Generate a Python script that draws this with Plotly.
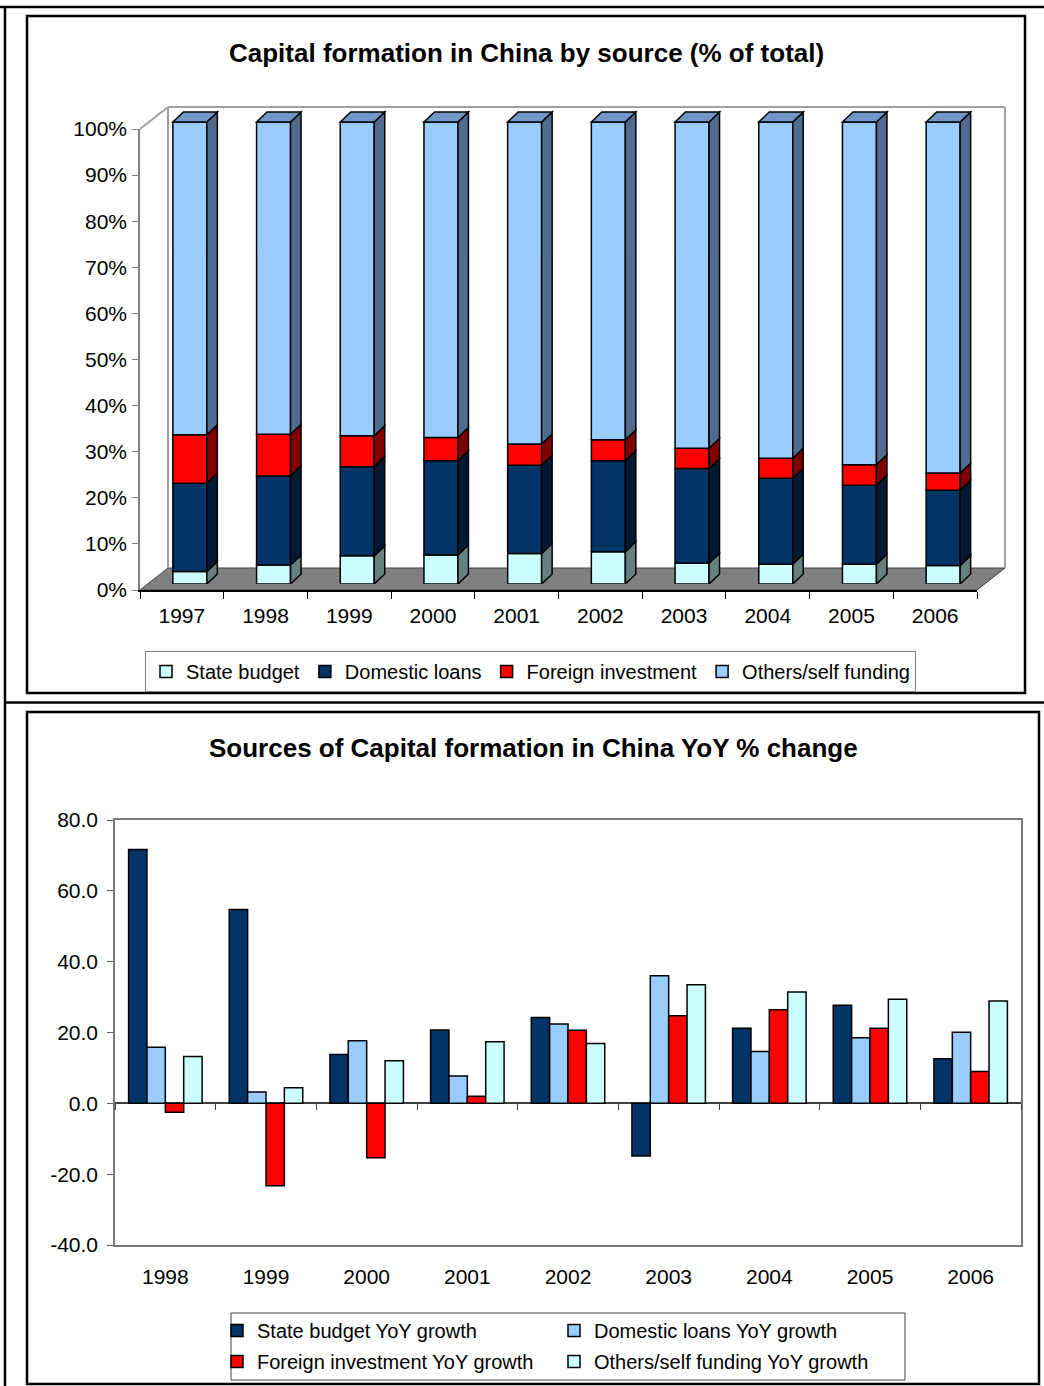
import numpy as np
import plotly.graph_objects as go

W, H = 1044, 1386
def fx(px):
    return px / W
def fy(py):
    return 1 - py / H

FONT = "Liberation Sans, Arial, sans-serif"

# ---------------- data: top chart (% of total) ----------------
years_share = ["1997", "1998", "1999", "2000", "2001", "2002", "2003", "2004", "2005", "2006"]
state_share = [2.7, 4.1, 6.1, 6.3, 6.6, 7.0, 4.5, 4.3, 4.3, 4.0]
domestic_share = [19.1, 19.3, 19.3, 20.4, 19.1, 19.7, 20.5, 18.6, 17.1, 16.3]
foreign_share = [10.5, 9.0, 6.7, 5.0, 4.6, 4.5, 4.4, 4.3, 4.4, 3.7]
others_share = [67.7, 67.6, 67.9, 68.3, 69.7, 68.8, 70.6, 72.8, 74.2, 76.0]
share_names = ["State budget", "Domestic loans", "Foreign investment", "Others/self funding"]

# ---------------- data: bottom chart (YoY % change) ----------------
years_yoy = ["1998", "1999", "2000", "2001", "2002", "2003", "2004", "2005", "2006"]
state_yoy = [71.7, 54.7, 13.8, 20.7, 24.2, -14.9, 21.2, 27.7, 12.6]
domestic_yoy = [15.8, 3.2, 17.7, 7.7, 22.4, 36.0, 14.6, 18.5, 20.1]
foreign_yoy = [-2.5, -23.3, -15.4, 2.0, 20.6, 24.7, 26.4, 21.2, 9.0]
others_yoy = [13.2, 4.4, 12.0, 17.4, 16.9, 33.5, 31.4, 29.4, 28.9]
yoy_names = ["State budget YoY growth", "Domestic loans YoY growth",
             "Foreign investment YoY growth", "Others/self funding YoY growth"]
yoy_tickvals = [-40, -20, 0, 20, 40, 60, 80]
yoy_ticktext = ["-40.0", "-20.0", "0.0", "20.0", "40.0", "60.0", "80.0"]

# styles
top_front = ["#CCFFFF", "#003366", "#FF0000", "#99CCFF"]
top_side = ["#668080", "#001A33", "#800000", "#4F6B8E"]
top_roof = "#7097C6"
bot_colors = ["#003366", "#99CCFF", "#FF0000", "#CCFFFF"]

fig = go.Figure()

# invisible trace to materialise the front (axis) subplot of the top chart
fig.add_trace(go.Scatter(x=years_share, y=[None] * len(years_share), mode="markers",
                         marker=dict(opacity=0), showlegend=False, hoverinfo="skip",
                         xaxis="x", yaxis="y"))

# top stacked bars (subplot x2/y2, shifted into the 3D depth)
series_top = [state_share, domestic_share, foreign_share, others_share]
xs = np.arange(len(years_share))
BW = 0.406
base = np.zeros(len(years_share))
bases = []
for j, vals in enumerate(series_top):
    vals = np.array(vals, dtype=float)
    bases.append(base.copy())
    fig.add_trace(go.Bar(x=xs, y=vals, base=base.copy(), width=BW, offset=-BW / 2,
                         marker=dict(color=top_front[j], line=dict(color="black", width=1.5)),
                         name=share_names[j], xaxis="x2", yaxis="y2", legend="legend"))
    base = base + vals

# bottom grouped bars
series_bot = [state_yoy, domestic_yoy, foreign_yoy, others_yoy]
for j, vals in enumerate(series_bot):
    fig.add_trace(go.Bar(x=years_yoy, y=vals, name=yoy_names[j],
                         marker=dict(color=bot_colors[j], line=dict(color="black", width=1.5)),
                         xaxis="x3", yaxis="y3", legend="legend2" if j < 2 else "legend3"))

# invisible trace for the zero-line tick axis
fig.add_trace(go.Scatter(x=years_yoy, y=[None] * len(years_yoy), mode="markers",
                         marker=dict(opacity=0), showlegend=False, hoverinfo="skip",
                         xaxis="x4", yaxis="y3"))

shapes = []
# 3D side & roof faces of the top bars (data coords of x2/y2)
DX, DY = 0.1255, 2.16
for j, vals in enumerate(series_top):
    for i in range(len(xs)):
        y0 = bases[j][i]
        y1 = y0 + vals[i]
        x1 = xs[i] + BW / 2
        path = (f"M {x1},{y0} L {x1 + DX},{y0 + DY} L {x1 + DX},{y1 + DY} "
                f"L {x1},{y1} Z")
        shapes.append(dict(type="path", path=path, xref="x2", yref="y2",
                           fillcolor=top_side[j], line=dict(color="black", width=1.5),
                           layer="above"))
        if j == len(series_top) - 1:
            x0 = xs[i] - BW / 2
            path = (f"M {x0},{y1} L {x0 + DX},{y1 + DY} L {x1 + DX},{y1 + DY} "
                    f"L {x1},{y1} Z")
            shapes.append(dict(type="path", path=path, xref="x2", yref="y2",
                               fillcolor=top_roof, line=dict(color="black", width=1.5),
                               layer="above"))

def pline(x0, y0, x1, y1, color="black", width=2.5, layer="above"):
    shapes.append(dict(type="line", xref="paper", yref="paper",
                       x0=fx(x0), y0=fy(y0), x1=fx(x1), y1=fy(y1),
                       line=dict(color=color, width=width), layer=layer))

def prect(x0, y0, x1, y1, color="black", width=2.5, fill=None, layer="above"):
    d = dict(type="rect", xref="paper", yref="paper",
             x0=fx(x0), y0=fy(y1), x1=fx(x1), y1=fy(y0),
             line=dict(color=color, width=width), layer=layer)
    if fill:
        d["fillcolor"] = fill
    shapes.append(d)

# floor of the 3D chart
shapes.append(dict(type="path", xref="paper", yref="paper", layer="below",
                   path=(f"M {fx(140)},{fy(590)} L {fx(977)},{fy(590)} L {fx(1005)},{fy(568)} "
                         f"L {fx(168)},{fy(568)} Z"),
                   fillcolor="#808080", line=dict(color="#404040", width=1)))
# back walls
pline(168, 568, 168, 107, color="#A0A0A0", width=2, layer="below")
pline(168, 107, 1005, 107, color="#A0A0A0", width=2, layer="below")
pline(1005, 107, 1005, 568, color="#A0A0A0", width=2, layer="below")
pline(140, 129, 168, 107, color="#A0A0A0", width=2, layer="below")

# frames
pline(0, 7, 1044, 7)
pline(5, 7, 5, 1386)
pline(5, 702.5, 1044, 702.5)
prect(27, 16, 1025, 693)
prect(27, 712, 1039, 1384)
# bottom legend box
prect(231, 1313, 905, 1380, color="#404040", width=1)

annotations = [
    dict(text="<b>Capital formation in China by source (% of total)</b>", x=fx(526), y=fy(53),
         xref="paper", yref="paper", showarrow=False, xanchor="center", yanchor="middle",
         font=dict(size=26, color="black", family=FONT)),
    dict(text="<b>Sources of Capital formation in China YoY % change</b>", x=fx(533), y=fy(748),
         xref="paper", yref="paper", showarrow=False, xanchor="center", yanchor="middle",
         font=dict(size=26, color="black", family=FONT)),
]

zero_py = 1245 - (0 - (-40)) * (1245 - 820) / 120.0

fig.update_layout(
    width=W, height=H, autosize=False,
    margin=dict(l=0, r=0, t=0, b=0, autoexpand=False),
    paper_bgcolor="white", plot_bgcolor="rgba(0,0,0,0)",
    font=dict(family=FONT, color="black", size=21),
    barmode="group", bargap=0.27, bargroupgap=0,
    showlegend=True,
    shapes=shapes, annotations=annotations,
    xaxis=dict(domain=[fx(140), fx(977)], anchor="y", type="category",
               range=[-0.5, 9.5], tickson="boundaries", ticks="outside", ticklen=7,
               tickcolor="black", showline=True, linecolor="black", linewidth=1.5,
               showgrid=False, zeroline=False, tickfont=dict(size=21),
               ticklabelstandoff=6, fixedrange=True, automargin=False),
    yaxis=dict(domain=[fy(590), fy(129)], anchor="x", range=[0, 100], dtick=10,
               ticksuffix="%", ticks="outside", ticklen=6, tickcolor="#808080",
               showline=True, linecolor="#808080", linewidth=1.5, showgrid=False,
               zeroline=False, tickfont=dict(size=21), ticklabelstandoff=1, fixedrange=True,
               automargin=False),
    xaxis2=dict(domain=[fx(148), fx(148 + 10.25 * 83.7)], anchor="y2", range=[-0.5, 9.75],
                visible=False, fixedrange=True, automargin=False),
    yaxis2=dict(domain=[fy(584), fy(584 - 106 * 4.62)], anchor="x2", range=[0, 106],
                visible=False, fixedrange=True, automargin=False),
    xaxis3=dict(domain=[fx(115), fx(1021)], anchor="y3", type="category",
                range=[-0.5, 8.5], ticks="", showline=True, mirror=True,
                linecolor="#7A7A7A", linewidth=1.5, showgrid=False, zeroline=False,
                tickfont=dict(size=21), ticklabelstandoff=12, fixedrange=True,
                automargin=False),
    yaxis3=dict(domain=[fy(1245), fy(820)], anchor="x3", range=[-40, 80],
                tickmode="array", tickvals=yoy_tickvals, ticktext=yoy_ticktext,
                ticks="outside", ticklen=6, tickcolor="#606060",
                showline=True, mirror=True, linecolor="#7A7A7A", linewidth=1.5,
                showgrid=False, zeroline=True, zerolinecolor="#404040", zerolinewidth=1.5,
                tickfont=dict(size=21), ticklabelstandoff=5, fixedrange=True,
                automargin=False),
    xaxis4=dict(overlaying="x3", anchor="free", position=fy(zero_py), type="category",
                range=[-0.5, 8.5], tickson="boundaries", ticks="outside", ticklen=6,
                tickcolor="#404040", showticklabels=False, showline=False, showgrid=False,
                zeroline=False, fixedrange=True, automargin=False),
    legend=dict(orientation="h", x=fx(145), y=fy(651), xanchor="left", yanchor="top",
                bordercolor="#808080", borderwidth=1, bgcolor="white",
                font=dict(size=20, family=FONT), itemwidth=30, tracegroupgap=0),
    legend2=dict(orientation="h", x=fx(217), y=fy(1311), xanchor="left", yanchor="top",
                 entrywidth=292, bgcolor="rgba(0,0,0,0)", borderwidth=0,
                 font=dict(size=20, family=FONT), itemwidth=30),
    legend3=dict(orientation="h", x=fx(217), y=fy(1342), xanchor="left", yanchor="top",
                 entrywidth=292, bgcolor="rgba(0,0,0,0)", borderwidth=0,
                 font=dict(size=20, family=FONT), itemwidth=30),
)

fig.write_html(
    "out.html",
    config={"displayModeBar": False},
    post_script="document.body.style.margin='0';document.body.style.padding='0';"
                "document.documentElement.style.overflow='hidden';"
                "document.body.style.overflow='hidden';",
)
